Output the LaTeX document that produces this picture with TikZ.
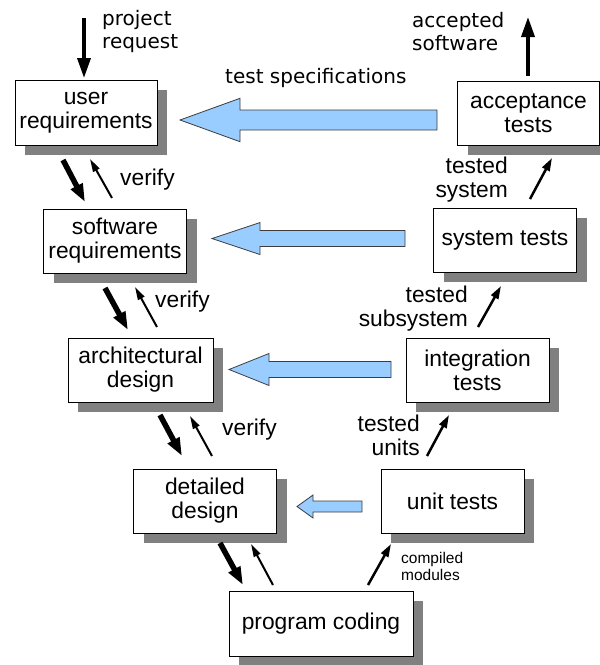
\documentclass[tikz,border=0pt]{standalone}
\usepackage{fontspec}
\setmainfont{Liberation Sans}
\newfontfamily\dvfont{DejaVu Sans}
\usetikzlibrary{arrows.meta,shadows}

\definecolor{shadowgray}{RGB}{128,128,128}
\definecolor{specblue}{RGB}{153,204,255}
\definecolor{specedge}{RGB}{60,60,60}

\tikzset{
  stagebox/.style={draw=black, line width=0.9pt, fill=white, inner sep=0pt,
    align=center, font=\fontsize{22.8}{24}\selectfont,
    minimum width=143pt, minimum height=64pt,
    general shadow={fill=shadowgray, shadow xshift=10pt, shadow yshift=-10pt}},
  lbl/.style={inner sep=0pt, font=\fontsize{22.8}{23.5}\selectfont},
  dvlbl/.style={inner sep=0pt, font=\dvfont\fontsize{20}{23}\selectfont},
  smalllbl/.style={inner sep=0pt, font=\fontsize{15.5}{17}\selectfont},
  ioarrow/.style={line width=3.5pt, -{Triangle[length=20pt,width=13pt]}},
  downarrow/.style={line width=5.5pt, -{Triangle[length=18pt,width=12.5pt]}},
  uparrow/.style={line width=2pt, -{Triangle[length=13pt,width=7pt]}},
  testarrow/.style={line width=2.5pt, -{Triangle[length=13pt,width=8pt]}},
  specarrow/.style={fill=specblue, draw=specedge, line width=0.8pt, line join=miter}
}

% blue "test specification" arrow: tip x, centre y, head base x, head half height, shaft half height, tail x
\newcommand{\specshape}[6]{%
  \draw[specarrow] (#1,#2) -- (#3,#2-#4) -- (#3,#2-#5) -- (#6,#2-#5)
    -- (#6,#2+#5) -- (#3,#2+#5) -- (#3,#2+#4) -- cycle;}

\begin{document}
\begin{tikzpicture}[x=1pt,y=-1pt]
\useasboundingbox (0,0) rectangle (600,665);

% development stages (left branch)
\node[stagebox, minimum width=142pt, minimum height=65pt] (ur) at (86,112.5) {user\\requirements};
\node[stagebox] (sr) at (115,241) {software\\requirements};
\node[stagebox, minimum width=145pt] (ad) at (140.5,370) {architectural\\design};
\node[stagebox] (dd) at (205,501) {detailed\\design};
\node[stagebox, minimum width=184pt, minimum height=65pt] (pc) at (321,623.5) {program coding};

% test stages (right branch)
\node[stagebox] (ut) at (452.5,501) {unit tests};
\node[stagebox] (it) at (477.5,370) {integration\\tests};
\node[stagebox] (st) at (505,240) {system tests};
\node[stagebox, minimum width=142pt] (at) at (528.5,113) {acceptance\\tests};

% test specifications flowing back from the test stages
\specshape{180}{120}{240}{21.7}{10}{437}
\specshape{212}{238.5}{260}{16}{8}{405}
\specshape{229}{369.5}{269}{16}{8}{391}
\specshape{297}{506.5}{313}{11.5}{5.5}{362}

\node[dvlbl, anchor=base west] (ts) at (225,83) {test specifications};

% project input and delivered output
\coordinate (prq) at (84,18);
\coordinate (ure) at (84,78);
\draw[ioarrow] (prq) -- (ure);
\node[dvlbl, anchor=base west, align=left] (prl) at (102,48) {project\\request};

\coordinate (ate) at (528,76);
\coordinate (acc) at (528,17);
\draw[ioarrow] (ate) -- (acc);
\node[dvlbl, anchor=base west, align=left] (acl) at (412,50) {accepted\\software};

% refinement (thick) and verification (thin) between development stages
\coordinate (a1s) at (63,160);  \coordinate (a1e) at (85,202);
\coordinate (v1s) at (112,198); \coordinate (v1e) at (90,159);
\draw[downarrow] (a1s) -- (a1e);
\draw[uparrow] (v1s) -- (v1e);
\node[lbl, anchor=base west] (vf1) at (120,185) {verify};

\coordinate (a2s) at (105,288); \coordinate (a2e) at (128,330);
\coordinate (v2s) at (157,327); \coordinate (v2e) at (135,287);
\draw[downarrow] (a2s) -- (a2e);
\draw[uparrow] (v2s) -- (v2e);
\node[lbl, anchor=base west] (vf2) at (155,307) {verify};

\coordinate (a3s) at (160,415); \coordinate (a3e) at (182,456);
\coordinate (v3s) at (212,456); \coordinate (v3e) at (190,416);
\draw[downarrow] (a3s) -- (a3e);
\draw[uparrow] (v3s) -- (v3e);
\node[lbl, anchor=base west] (vf3) at (222,435) {verify};

\coordinate (a4s) at (220,543); \coordinate (a4e) at (243,585);
\coordinate (v4s) at (273,585); \coordinate (v4e) at (251,544);
\draw[downarrow] (a4s) -- (a4e);
\draw[uparrow] (v4s) -- (v4e);

% products passed up the test branch
\coordinate (t1s) at (368,585); \coordinate (t1e) at (391,544);
\draw[testarrow] (t1s) -- (t1e);
\node[smalllbl, anchor=base west, align=left] (cml) at (401,580) {compiled\\modules};

\coordinate (t2s) at (427,456); \coordinate (t2e) at (449,415);
\draw[testarrow] (t2s) -- (t2e);
\node[lbl, anchor=base east, align=right] (tul) at (420,455) {tested\\units};

\coordinate (t3s) at (478,327); \coordinate (t3e) at (501,286);
\draw[testarrow] (t3s) -- (t3e);
\node[lbl, anchor=base east, align=right] (tsl) at (468,326) {tested\\subsystem};

\coordinate (t4s) at (530,199); \coordinate (t4e) at (552,158);
\draw[testarrow] (t4s) -- (t4e);
\node[lbl, anchor=base east, align=right] (tyl) at (508,197) {tested\\system};
\end{tikzpicture}
\end{document}
